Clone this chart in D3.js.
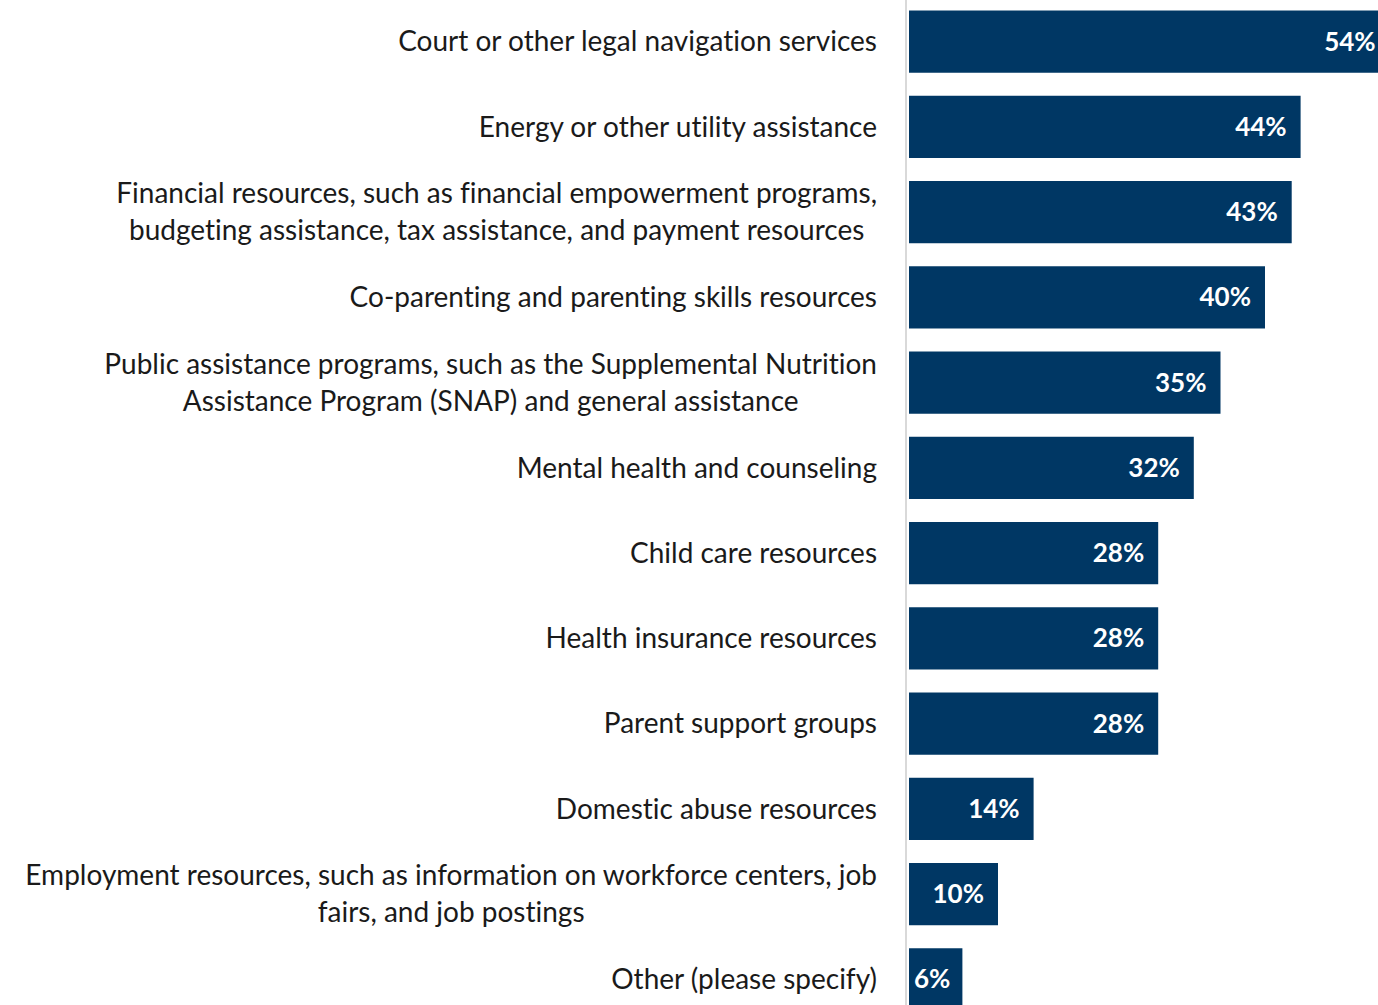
<!DOCTYPE html>
<html>
<head>
<meta charset="utf-8">
<script src="https://cdn.jsdelivr.net/npm/d3@7/dist/d3.min.js"></script>
<style>
  html, body { margin: 0; padding: 0; background: #fff; }
  svg { display: block; }
  text { font-variant-ligatures: none; }
</style>
</head>
<body>
<svg id="chart" width="1378" height="1005"></svg>
<script>
// Resource categories (each entry is one or two label lines)
const categories = [
  ["Court or other legal navigation services"],
  ["Energy or other utility assistance"],
  ["Financial resources, such as financial empowerment programs,", "budgeting assistance, tax assistance, and payment resources"],
  ["Co-parenting and parenting skills resources"],
  ["Public assistance programs, such as the Supplemental Nutrition", "Assistance Program (SNAP) and general assistance"],
  ["Mental health and counseling"],
  ["Child care resources"],
  ["Health insurance resources"],
  ["Parent support groups"],
  ["Domestic abuse resources"],
  ["Employment resources, such as information on workforce centers, job", "fairs, and job postings"],
  ["Other (please specify)"]
];
// Share of respondents (%)
const values = [54, 44, 43, 40, 35, 32, 28, 28, 28, 14, 10, 6];

const W = 1378, H = 1005;
const svg = d3.select("#chart");
const FONT = "Lato, 'Open Sans', sans-serif";

const ids = categories.map((c, i) => i);
const y = d3.scaleBand()
  .domain(ids)
  .range([-1, 1022])
  .paddingInner(0.27)
  .paddingOuter(0.135);

const x = d3.scaleLinear()
  .domain([0, 54])
  .range([909, 909 + 54 * 8.9]);

// category axis line
svg.append("line")
  .attr("x1", 906).attr("x2", 906)
  .attr("y1", 0).attr("y2", H)
  .attr("stroke", "#d9d9d9")
  .attr("stroke-width", 2);

// bars
svg.append("g").selectAll("rect")
  .data(values)
  .join("rect")
  .attr("x", x(0))
  .attr("y", (d, i) => y(i))
  .attr("width", d => x(d) - x(0))
  .attr("height", y.bandwidth())
  .attr("fill", "#003764");

// value labels inside the bar ends
const vl = svg.append("g").selectAll("text")
  .data(values)
  .join("text")
  .attr("y", (d, i) => y(i) + y.bandwidth() / 2)
  .attr("dy", "0.35em")
  .attr("text-anchor", "end")
  .attr("fill", "#ffffff")
  .attr("font-family", FONT)
  .attr("font-weight", "bold")
  .attr("font-size", 26)
  .text(d => d + "%");
vl.each(function(d) {
  const w = this.getComputedTextLength();
  const xe = Math.max(x(d) - 14, x(0) + 5 + w);
  d3.select(this).attr("x", xe);
});

// category labels: multi-line blocks are centred on themselves, right-aligned to the axis
const LABEL_RIGHT = 877;
const LINE_H = 37;
const cl = svg.append("g");
categories.forEach((lines, i) => {
  const cy = y(i) + y.bandwidth() / 2;
  const g = cl.append("g");
  const texts = lines.map((s, k) =>
    g.append("text")
      .attr("y", cy + (k - (lines.length - 1) / 2) * LINE_H)
      .attr("dy", "0.35em")
      .attr("text-anchor", "middle")
      .attr("fill", "#1a1a1a")
      .attr("font-family", FONT)
      .attr("font-size", 28)
      .text(s)
  );
  const widths = texts.map(t => t.node().getComputedTextLength());
  const maxW = d3.max(widths);
  const centre = LABEL_RIGHT - maxW / 2;
  texts.forEach(t => t.attr("x", centre));
});
</script>
</body>
</html>
